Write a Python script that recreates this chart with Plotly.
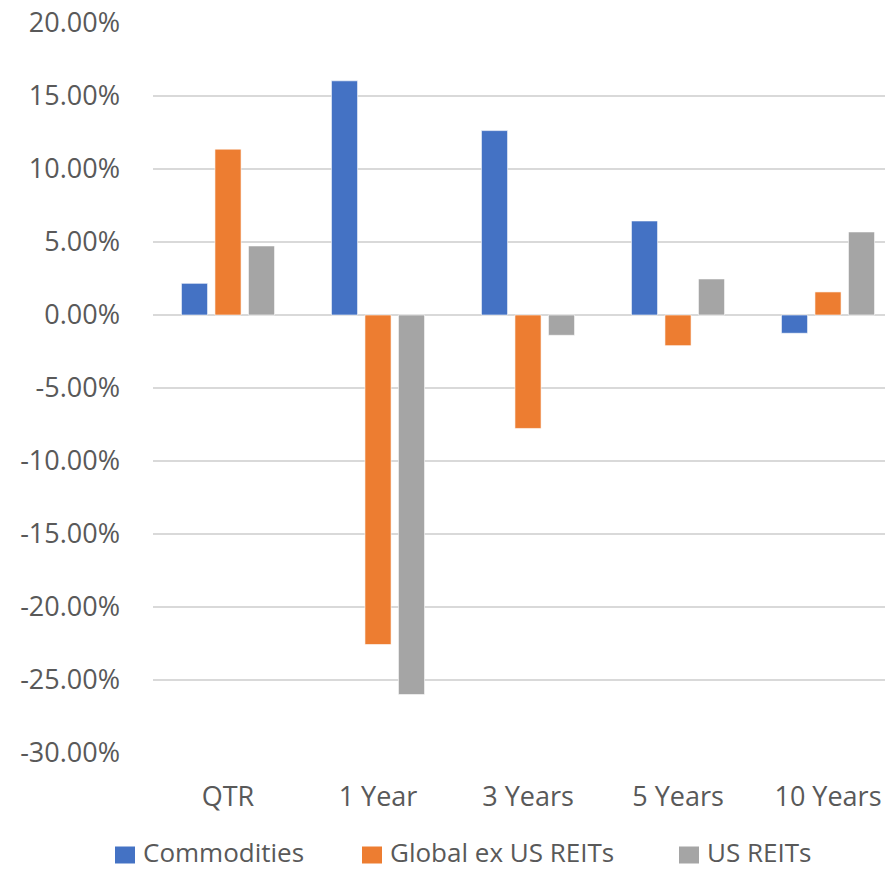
import plotly.graph_objects as go

# Return periods and series values (percent)
periods = ["QTR", "1 Year", "3 Years", "5 Years", "10 Years"]
commodities = [2.17, 16.04, 12.63, 6.44, -1.25]
global_ex_us_reits = [11.36, -22.57, -7.77, -2.10, 1.58]
us_reits = [4.73, -26.00, -1.39, 2.47, 5.69]

y_ticks = [20, 15, 10, 5, 0, -5, -10, -15, -20, -25, -30]
y_tick_text = [f"{v:.2f}%" for v in y_ticks]

series_names = ["Commodities", "Global ex US REITs", "US REITs"]
series_values = [commodities, global_ex_us_reits, us_reits]
series_colors = ["#4472C4", "#ED7D31", "#A5A5A5"]

W, H = 885, 869
M_L, M_R, M_T, M_B = 153, 0, 23, 116
PLOT_W = W - M_L - M_R
PLOT_H = H - M_T - M_B

font_family = "Open Sans, Liberation Sans, Arial, sans-serif"
text_color = "#595959"
grid_color = "#D9D9D9"

fig = go.Figure()
for name, vals, color in zip(series_names, series_values, series_colors):
    fig.add_trace(go.Bar(
        x=periods,
        y=vals,
        name=name,
        marker=dict(color=color, line=dict(color="rgba(255,255,255,0.6)", width=1)),
        showlegend=False,
    ))


def px_to_paper_x(px):
    return (px - M_L) / PLOT_W


def px_to_paper_y(py):
    return (H - M_B - py) / PLOT_H


# Legend row below the chart: colour swatch followed by the series name
legend_swatch_left = [115, 362, 679]
legend_swatch_size = (20, 17)
legend_center_y = 852
legend_text_gap = 7

for name, color, left in zip(series_names, series_colors, legend_swatch_left):
    sw, sh = legend_swatch_size
    fig.add_shape(
        type="rect",
        xref="paper", yref="paper",
        x0=px_to_paper_x(left), x1=px_to_paper_x(left + sw),
        y0=px_to_paper_y(legend_center_y + 3 + sh / 2), y1=px_to_paper_y(legend_center_y + 3 - sh / 2),
        fillcolor=color, line=dict(width=0),
    )
    fig.add_annotation(
        xref="paper", yref="paper",
        x=px_to_paper_x(left + sw + legend_text_gap),
        y=px_to_paper_y(legend_center_y),
        xanchor="left", yanchor="middle",
        text=name, showarrow=False, borderpad=0,
        font=dict(family=font_family, size=26, color=text_color),
    )

fig.update_layout(
    width=W,
    height=H,
    margin=dict(l=M_L, r=M_R, t=M_T, b=M_B, autoexpand=False),
    paper_bgcolor="white",
    plot_bgcolor="white",
    barmode="group",
    bargap=0.33,
    bargroupgap=0.22,
    font=dict(family=font_family, size=28, color=text_color),
    showlegend=False,
)

fig.update_xaxes(
    type="category",
    range=[-0.5, 4.38],
    showgrid=False,
    showline=False,
    ticks="",
    ticklabelstandoff=25,
    tickfont=dict(family=font_family, size=27, color=text_color),
)

fig.update_yaxes(
    range=[-30, 20],
    tickvals=y_ticks,
    ticktext=y_tick_text,
    showgrid=True,
    gridcolor=grid_color,
    gridwidth=1.5,
    zeroline=True,
    zerolinecolor=grid_color,
    zerolinewidth=1.5,
    showline=False,
    ticks="",
    ticklabelstandoff=32,
    tickfont=dict(family=font_family, size=27, color=text_color),
)

fig.write_html("out.html")
